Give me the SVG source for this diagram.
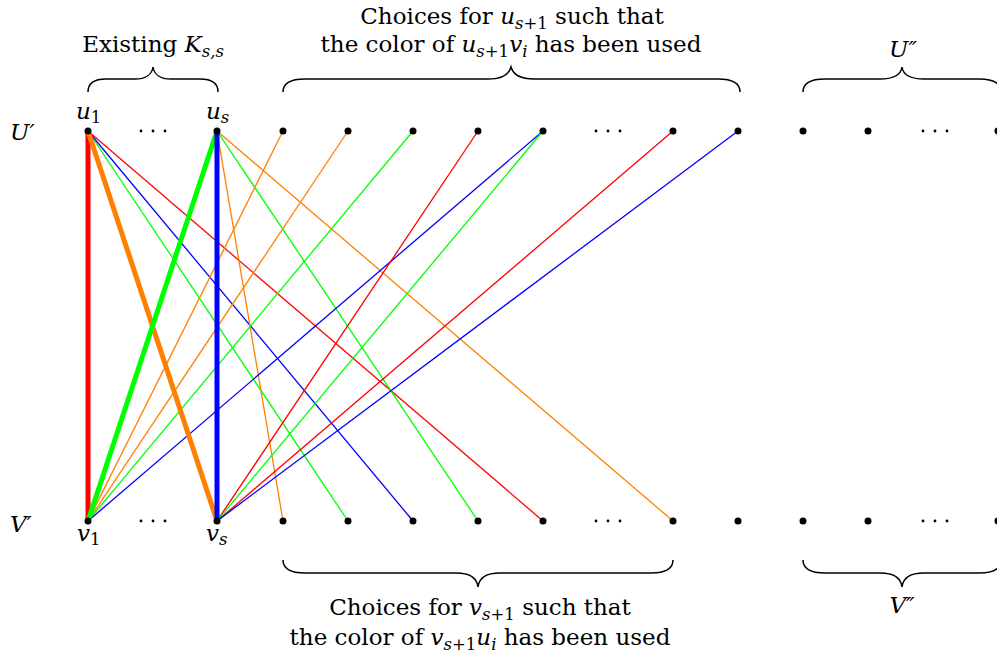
<svg xmlns="http://www.w3.org/2000/svg" width="997" height="657" viewBox="0 0 997 657">
<style>
.lb text{font-size:23px;fill:#000}
.m{font-style:italic}
.s{font-size:16.5px}
.e{fill:none;stroke-width:1.3}
.t{fill:none;stroke-width:5}
.r{stroke:#ff0000}.o{stroke:#ff8000}.g{stroke:#00ff00}.b{stroke:#0000ff}
.br{fill:none;stroke:#000;stroke-width:1.5}
.n{fill:#000}
</style>
<g id="connectors">
<line class="e g" x1="88" y1="131" x2="348" y2="521"/>
<line class="e b" x1="88" y1="131" x2="413" y2="521"/>
<line class="e r" x1="88" y1="131" x2="543" y2="521"/>
<line class="e o" x1="217" y1="131" x2="283" y2="521"/>
<line class="e g" x1="217" y1="131" x2="478" y2="521"/>
<line class="e o" x1="217" y1="131" x2="673" y2="521"/>
<line class="e o" x1="88" y1="521" x2="283" y2="131"/>
<line class="e o" x1="88" y1="521" x2="348" y2="131"/>
<line class="e g" x1="88" y1="521" x2="413" y2="131"/>
<line class="e b" x1="88" y1="521" x2="543" y2="131"/>
<line class="e r" x1="217" y1="521" x2="478" y2="131"/>
<line class="e g" x1="217" y1="521" x2="543" y2="131"/>
<line class="e r" x1="217" y1="521" x2="673" y2="131"/>
<line class="e b" x1="217" y1="521" x2="738" y2="131"/>
<line class="t r" x1="88" y1="131" x2="88" y2="521"/>
<line class="t o" x1="88" y1="131" x2="217" y2="521"/>
<line class="t g" x1="217" y1="131" x2="88" y2="521"/>
<line class="t b" x1="217" y1="131" x2="217" y2="521"/>
</g>
<g id="top-row">
<circle id="u1" class="n" cx="88" cy="131" r="3.5"/>
<circle id="us" class="n" cx="217" cy="131" r="3.5"/>
<circle class="n" cx="283" cy="131" r="3.5"/>
<circle class="n" cx="348" cy="131" r="3.5"/>
<circle class="n" cx="413" cy="131" r="3.5"/>
<circle class="n" cx="478" cy="131" r="3.5"/>
<circle class="n" cx="543" cy="131" r="3.5"/>
<circle class="n" cx="673" cy="131" r="3.5"/>
<circle class="n" cx="738" cy="131" r="3.5"/>
<circle class="n" cx="803" cy="131" r="3.5"/>
<circle class="n" cx="868" cy="131" r="3.5"/>
<circle class="n" cx="998" cy="131" r="3.5"/>
</g>
<g id="bottom-row">
<circle id="v1" class="n" cx="88" cy="521" r="3.5"/>
<circle id="vs" class="n" cx="217" cy="521" r="3.5"/>
<circle class="n" cx="283" cy="521" r="3.5"/>
<circle class="n" cx="348" cy="521" r="3.5"/>
<circle class="n" cx="413" cy="521" r="3.5"/>
<circle class="n" cx="478" cy="521" r="3.5"/>
<circle class="n" cx="543" cy="521" r="3.5"/>
<circle class="n" cx="673" cy="521" r="3.5"/>
<circle class="n" cx="738" cy="521" r="3.5"/>
<circle class="n" cx="803" cy="521" r="3.5"/>
<circle class="n" cx="868" cy="521" r="3.5"/>
<circle class="n" cx="998" cy="521" r="3.5"/>
</g>
<g id="dots">
<circle class="n" cx="141" cy="131" r="1.4"/><circle class="n" cx="153" cy="131" r="1.4"/><circle class="n" cx="165" cy="131" r="1.4"/>
<circle class="n" cx="596" cy="131" r="1.4"/><circle class="n" cx="608" cy="131" r="1.4"/><circle class="n" cx="620" cy="131" r="1.4"/>
<circle class="n" cx="923" cy="131" r="1.4"/><circle class="n" cx="935" cy="131" r="1.4"/><circle class="n" cx="947" cy="131" r="1.4"/>
<circle class="n" cx="141" cy="521" r="1.4"/><circle class="n" cx="153" cy="521" r="1.4"/><circle class="n" cx="165" cy="521" r="1.4"/>
<circle class="n" cx="596" cy="521" r="1.4"/><circle class="n" cx="608" cy="521" r="1.4"/><circle class="n" cx="620" cy="521" r="1.4"/>
<circle class="n" cx="923" cy="521" r="1.4"/><circle class="n" cx="935" cy="521" r="1.4"/><circle class="n" cx="947" cy="521" r="1.4"/>
</g>
<g id="braces">
<path class="br" d="M88,92 C88,84 94,79 106,79 L135,79 C146,79 152,74 153,67 C154,74 160,79 171,79 L200,79 C212,79 218,84 218,92"/>
<path class="br" d="M283,92 C283,84 290,79 305,79 L488,79 C502,79 509,74 511,67 C513,74 520,79 534,79 L718,79 C733,79 740,84 740,92"/>
<path class="br" d="M803,92 C803,84 810,79 825,79 L880,79 C894,79 901,74 902,67 C903,74 910,79 924,79 L979,79 C994,79 1001,84 1001,92"/>
<path class="br" d="M283,560 C283,568 290,573 305,573 L456,573 C470,573 477,578 478,587 C479,578 486,573 500,573 L651,573 C666,573 673,568 673,560"/>
<path class="br" d="M803,560 C803,568 810,573 825,573 L880,573 C894,573 901,578 902,587 C903,578 910,573 924,573 L979,573 C994,573 1001,568 1001,560"/>
</g>
<g id="labels" class="lb" font-family="DejaVu Serif, serif">
<text x="153" y="52" text-anchor="middle">Existing <tspan class="m">K</tspan><tspan class="s m" dy="5">s,s</tspan></text>
<text x="512" y="24" text-anchor="middle">Choices for <tspan class="m">u</tspan><tspan class="s" dy="5"><tspan class="m">s</tspan>+1</tspan><tspan dy="-5"> such that</tspan></text>
<text x="511" y="52" text-anchor="middle">the color of <tspan class="m">u</tspan><tspan class="s" dy="5"><tspan class="m">s</tspan>+1</tspan><tspan class="m" dy="-5">v</tspan><tspan class="s m" dy="5">i</tspan><tspan dy="-5"> has been used</tspan></text>
<text x="480" y="615" text-anchor="middle">Choices for <tspan class="m">v</tspan><tspan class="s" dy="5"><tspan class="m">s</tspan>+1</tspan><tspan dy="-5"> such that</tspan></text>
<text x="480" y="645" text-anchor="middle">the color of <tspan class="m">v</tspan><tspan class="s" dy="5"><tspan class="m">s</tspan>+1</tspan><tspan class="m" dy="-5">u</tspan><tspan class="s m" dy="5">i</tspan><tspan dy="-5"> has been used</tspan></text>
<text class="m" x="903" y="57" text-anchor="middle">U″</text>
<text class="m" x="902" y="613" text-anchor="middle">V″</text>
<text class="m" x="10" y="140">U′</text>
<text class="m" x="10" y="532">V′</text>
<text x="76" y="119"><tspan class="m">u</tspan><tspan class="s" dy="4">1</tspan></text>
<text x="206" y="119"><tspan class="m">u</tspan><tspan class="s m" dy="4">s</tspan></text>
<text x="77" y="541"><tspan class="m">v</tspan><tspan class="s" dy="4">1</tspan></text>
<text x="206" y="541"><tspan class="m">v</tspan><tspan class="s m" dy="4">s</tspan></text>
</g>
</svg>
